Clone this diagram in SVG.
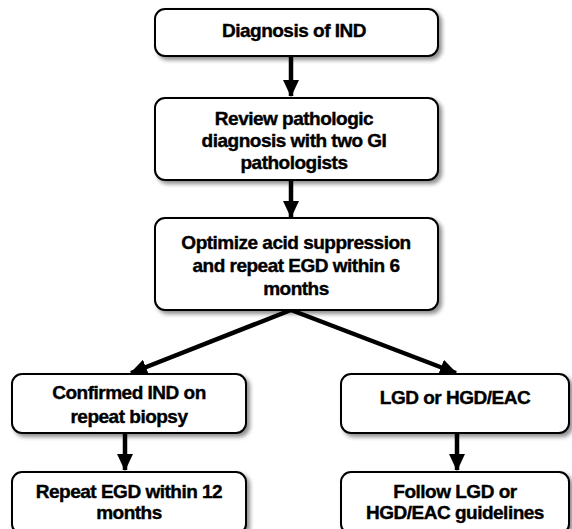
<svg xmlns="http://www.w3.org/2000/svg" width="572" height="529" viewBox="0 0 572 529">
<defs>
<filter id="sh" x="-5%" y="-10%" width="115%" height="130%">
<feDropShadow dx="3" dy="3" stdDeviation="2" flood-color="#000" flood-opacity="0.45"/>
</filter>
<marker id="ah" markerUnits="userSpaceOnUse" markerWidth="18" markerHeight="18" viewBox="0 0 18 18" refX="16" refY="9" orient="auto">
<path d="M0,1 L17,9 L0,17 Z" fill="#000"/>
</marker>
</defs>
<style>
.box{fill:#fff;stroke:#000;stroke-width:2;filter:url(#sh)}
.t{font-family:"Liberation Sans",Arial,sans-serif;font-weight:bold;font-size:19px;letter-spacing:-0.5px;fill:#000;stroke:#000;stroke-width:0.4;text-anchor:middle}
.c{stroke:#000;stroke-width:4.5;fill:none;marker-end:url(#ah)}
</style>
<rect width="572" height="529" fill="#fff"/>
<g id="connectors">
<line class="c" x1="291" y1="56" x2="291" y2="96"/>
<line class="c" x1="291" y1="180" x2="291" y2="217"/>
<line class="c" x1="291" y1="310" x2="131" y2="373"/>
<line class="c" x1="291" y1="310" x2="456" y2="373"/>
<line class="c" x1="125" y1="433" x2="125" y2="470"/>
<line class="c" x1="457" y1="433" x2="457" y2="470"/>
</g>
<g id="n1">
<rect class="box" x="155" y="9" width="283" height="47" rx="10"/>
<text class="t" x="294" y="37">Diagnosis of IND</text>
</g>
<g id="n2">
<rect class="box" x="155" y="98" width="283" height="82" rx="10"/>
<text class="t" x="294" y="125">Review pathologic</text>
<text class="t" x="294" y="147">diagnosis with two GI</text>
<text class="t" x="294" y="169">pathologists</text>
</g>
<g id="n3">
<rect class="box" x="155" y="218" width="283" height="92" rx="10"/>
<text class="t" x="296" y="249">Optimize acid suppression</text>
<text class="t" x="296" y="272">and repeat EGD within 6</text>
<text class="t" x="296" y="295">months</text>
</g>
<g id="n4">
<rect class="box" x="12" y="374" width="234" height="59" rx="10"/>
<text class="t" x="129" y="399">Confirmed IND on</text>
<text class="t" x="129" y="423">repeat biopsy</text>
</g>
<g id="n5">
<rect class="box" x="341" y="374" width="228" height="59" rx="10"/>
<text class="t" x="455" y="404">LGD or HGD/EAC</text>
</g>
<g id="n6">
<rect class="box" x="12" y="472" width="234" height="62" rx="10"/>
<text class="t" x="129" y="498">Repeat EGD within 12</text>
<text class="t" x="129" y="519">months</text>
</g>
<g id="n7">
<rect class="box" x="341" y="472" width="228" height="62" rx="10"/>
<text class="t" x="455" y="498">Follow LGD or</text>
<text class="t" x="455" y="519">HGD/EAC guidelines</text>
</g>
</svg>
